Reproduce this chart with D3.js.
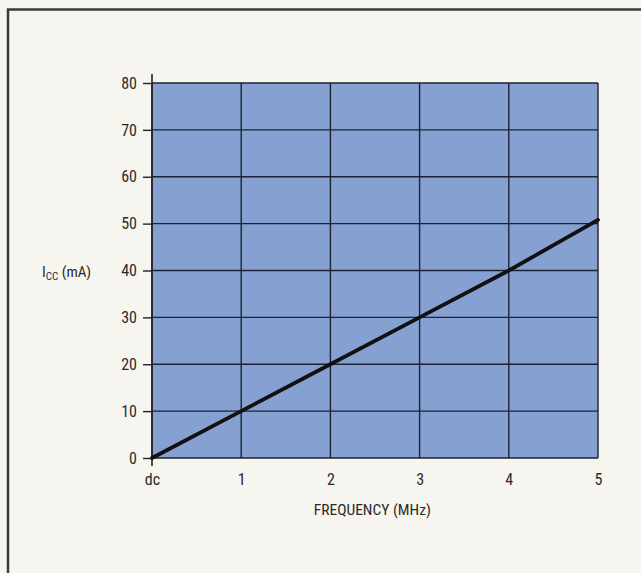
<!DOCTYPE html>
<html>
<head>
<meta charset="utf-8">
<script src="https://cdn.jsdelivr.net/npm/d3@7/dist/d3.min.js"></script>
<style>
  html, body { margin: 0; padding: 0; background: #f7f5ef; }
  svg { display: block; }
  text { font-family: "Liberation Sans Narrow", "Roboto Condensed", "DejaVu Sans Condensed", sans-serif; fill: #2a2a2a; }
</style>
</head>
<body>
<script>
// ---- data ----
const freqTicks = [0, 1, 2, 3, 4, 5];
const freqLabels = ["dc", "1", "2", "3", "4", "5"];
const iccTicks = [0, 10, 20, 30, 40, 50, 60, 70, 80];
const freqValues = [0, 1, 2, 3, 4, 5];
const iccValues = [0, 10, 20, 30, 40, 50.8];
const xTitle = "FREQUENCY (MHz)";

const W = 641, H = 573;
const margin = { left: 152, right: 43, top: 83, bottom: 115 };
const pw = W - margin.left - margin.right;
const ph = H - margin.top - margin.bottom;

const svg = d3.select("body").append("svg").attr("width", W).attr("height", H);

// paper background
svg.append("rect").attr("width", W).attr("height", H).attr("fill", "#f7f5ef");
// frame (top & left visible)
svg.append("path")
  .attr("d", `M8,${H} L8,9.5 L${W},9.5`)
  .attr("fill", "none").attr("stroke", "#3a3a3a").attr("stroke-width", 2.5);

const g = svg.append("g").attr("transform", `translate(${margin.left},${margin.top})`);

const x = d3.scaleLinear().domain([0, 5]).range([0, pw]);
const y = d3.scaleLinear().domain([0, 80]).range([ph, 0]);

// plot area fill
g.append("rect").attr("x", 0).attr("y", 0).attr("width", pw).attr("height", ph)
  .attr("fill", "#839ed1");

// subtle texture pattern
const defs = svg.append("defs");
const pat = defs.append("pattern").attr("id", "tex").attr("width", 4).attr("height", 4)
  .attr("patternUnits", "userSpaceOnUse");
pat.append("path").attr("d", "M0,4 L4,0").attr("stroke", "#97afdc").attr("stroke-width", 0.8);
g.append("rect").attr("x", 0).attr("y", 0).attr("width", pw).attr("height", ph)
  .attr("fill", "url(#tex)").attr("opacity", 0.6);

// grid lines
g.append("g").selectAll("line").data(iccTicks).join("line")
  .attr("x1", 0).attr("x2", pw)
  .attr("y1", d => y(d)).attr("y2", d => y(d))
  .attr("stroke", "#1c2230").attr("stroke-width", 1.4);
g.append("g").selectAll("line").data(freqTicks).join("line")
  .attr("x1", d => x(d)).attr("x2", d => x(d))
  .attr("y1", 0).attr("y2", ph)
  .attr("stroke", "#1c2230").attr("stroke-width", 1.4);

// y axis
const yAxis = d3.axisLeft(y).tickValues(iccTicks).tickSize(9).tickPadding(6).tickSizeOuter(0);
const ya = g.append("g").call(yAxis);
ya.select(".domain").remove();
ya.attr("font-size", null).attr("font-family", null);
ya.selectAll("line").attr("stroke", "#222").attr("stroke-width", 1.4);
ya.selectAll("text").style("font-size", "16px").attr("fill", "#262626");
// axis spine extending past the plot
g.append("line").attr("x1", x(0)).attr("x2", x(0))
  .attr("y1", y(80) - 9).attr("y2", y(0) + 8)
  .attr("stroke", "#222").attr("stroke-width", 1.6);

// x axis labels
const xAxis = d3.axisBottom(x).tickValues(freqTicks).tickFormat((d, i) => freqLabels[i]).tickSize(0).tickPadding(16);
const xa = g.append("g").attr("transform", `translate(0,${ph})`).call(xAxis);
xa.select(".domain").remove();
xa.attr("font-size", null).attr("font-family", null);
xa.selectAll("text").style("font-size", "16px").attr("fill", "#262626");

// x title
g.append("text").attr("x", x(2.47)).attr("y", ph + 57)
  .attr("text-anchor", "middle").style("font-size", "15.5px").text(xTitle);

// y title I_CC (mA)
const yt = svg.append("text").attr("x", 42).attr("y", 277).style("font-size", "15px");
yt.append("tspan").text("I");
yt.append("tspan").attr("dy", 3).style("font-size", "11px").text("CC");
yt.append("tspan").attr("dy", -3).text(" (mA)");

// data line
const line = d3.line().x(d => x(d[0])).y(d => y(d[1]));
g.append("path").datum(freqValues.map((f, i) => [f, iccValues[i]]))
  .attr("d", line).attr("fill", "none").attr("stroke", "#111")
  .attr("stroke-width", 3.8).attr("stroke-linecap", "round");
</script>
</body>
</html>
